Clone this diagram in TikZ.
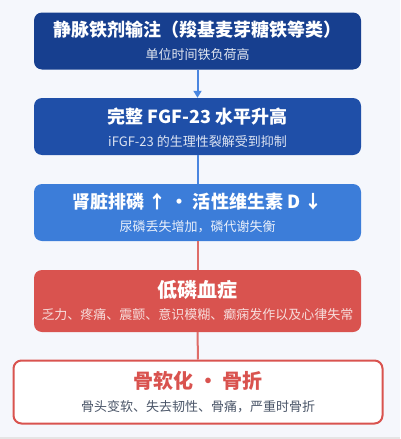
\documentclass[tikz,border=0pt]{standalone}
\usepackage{fontspec}
\setmainfont{Noto Sans CJK SC}
\usetikzlibrary{arrows.meta,positioning}
\definecolor{bgc}{HTML}{F5F7FC}
\definecolor{navy}{HTML}{173F8F}
\definecolor{royal}{HTML}{1F4FA8}
\definecolor{sky}{HTML}{3C7DD9}
\definecolor{alert}{HTML}{D9534F}
\definecolor{linkblue}{HTML}{4A86E0}
\definecolor{subgray}{HTML}{4A5568}

\begin{document}
\begin{tikzpicture}[x=1pt,y=-1pt,
    box/.style={rounded corners=8pt, minimum width=327pt, minimum height=57pt, inner sep=0pt},
    ttl/.style={font=\fontsize{18}{20}\selectfont\bfseries, text=white, inner sep=0pt},
    sub/.style={font=\fontsize{13}{15}\selectfont, inner sep=0pt},
    link/.style={line width=2pt}]
        % background
        \fill[bgc] (0,0) rectangle (400,439);
        \fill[black!10] (0,437) rectangle (400,439);

        % Iron infusion
        \node [box, fill=navy] (inj) at (197.5,41) {};
        \node [ttl] (injt) at (197.5,30) {静脉铁剂输注（羧基麦芽糖铁等类）};
        \node [sub, text=white!88!navy] (injs) at (197.5,55) {单位时间铁负荷高};

        % FGF-23
        \node [box, fill=royal] (fgf) at (197.5,126.5) {};
        \node [ttl] (fgft) at (197.5,117) {完整 FGF-23 水平升高};
        \node [sub, text=white!85!royal] (fgfs) at (197.5,142) {iFGF-23 的生理性裂解受到抑制};

        % Kidney
        \node [box, fill=sky] (kid) at (197.5,212.5) {};
        \node [ttl] (kidt) at (197.5,202) {肾脏排磷 ↑ ・ 活性维生素 D ↓};
        \node [sub, text=white!88!sky] (kids) at (197.5,227) {尿磷丢失增加，磷代谢失衡};

        % Hypophosphatemia
        \node [box, fill=alert, minimum height=62pt] (hypo) at (197.5,301) {};
        \node [ttl, font=\fontsize{20}{22}\selectfont\bfseries] (hypot) at (197.5,290) {低磷血症};
        \node [sub, text=white!80!alert] (hypos) at (197.5,315) {乏力、疼痛、震颤、意识模糊、癫痫发作以及心律失常};

        % Osteomalacia
        \node [box, fill=white, draw=alert, line width=2pt, minimum width=369pt, minimum height=63pt] (bone) at (198,392) {};
        \node [ttl, text=alert, font=\fontsize{20}{22}\selectfont\bfseries] (bonet) at (198,381) {骨软化 ・ 骨折};
        \node [sub, text=subgray] (bones) at (198,407) {骨头变软、失去韧性、骨痛，严重时骨折};

        % links
        \draw [link, linkblue, -{Triangle[width=8pt,length=7pt]}] (inj.south) -- (fgf.north);
        \draw [link, linkblue] (fgf.south) -- (kid.north);
        \draw [link, alert!85!white] (kid.south) -- (hypo.north);
        \draw [link, alert!85!white] (hypo.south) -- (bone.north);
    \end{tikzpicture}
\end{document}
